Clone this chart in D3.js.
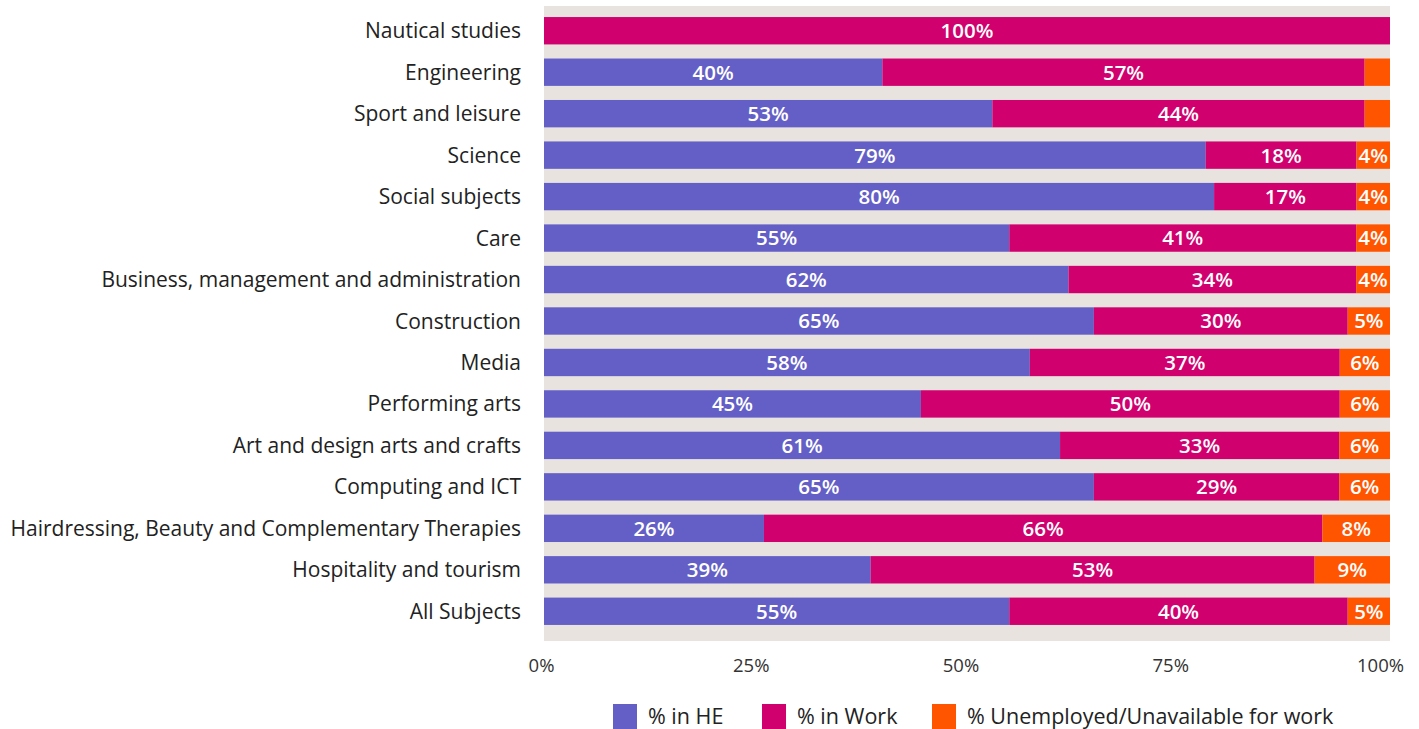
<!DOCTYPE html>
<html>
<head>
<meta charset="utf-8">
<script src="https://cdn.jsdelivr.net/npm/d3@7"></script>
<style>
  html, body { margin: 0; padding: 0; background: #ffffff; }
  svg { display: block; font-family: "Open Sans", Lato, sans-serif; }
</style>
</head>
<body>
<svg id="chart" width="1419" height="729"></svg>
<script>
// Destinations of leavers by subject area (percent of leavers)
const subjects = [
  "Nautical studies",
  "Engineering",
  "Sport and leisure",
  "Science",
  "Social subjects",
  "Care",
  "Business, management and administration",
  "Construction",
  "Media",
  "Performing arts",
  "Art and design arts and crafts",
  "Computing and ICT",
  "Hairdressing, Beauty and Complementary Therapies",
  "Hospitality and tourism",
  "All Subjects"
];
const inHE       = [0, 40, 53, 79, 80, 55, 62, 65, 58, 45, 61, 65, 26, 39, 55];
const inWork     = [100, 57, 44, 18, 17, 41, 34, 30, 37, 50, 33, 29, 66, 53, 40];
const unemployed = [0, 3, 3, 4, 4, 4, 4, 5, 6, 6, 6, 6, 8, 9, 5];

const seriesKeys   = ["he", "work", "unemp"];
const seriesNames  = ["% in HE", "% in Work", "% Unemployed/Unavailable for work"];
const seriesColors = ["#645fc6", "#d0006f", "#ff5500"];
const tickValues   = [0, 0.25, 0.5, 0.75, 1];

const rows = subjects.map((s, i) => ({ subject: s, he: inHE[i], work: inWork[i], unemp: unemployed[i] }));

const svg = d3.select("#chart");
const plot = { left: 544, right: 1390, top: 6, bottom: 641 };

const x = d3.scaleLinear().domain([0, 1]).range([plot.left, plot.right]);
const y = d3.scaleBand().domain(subjects).range([10, 632]).paddingInner(0.34).paddingOuter(0.17);

// Plot background
svg.append("rect")
  .attr("x", plot.left).attr("y", plot.top)
  .attr("width", plot.right - plot.left).attr("height", plot.bottom - plot.top)
  .attr("fill", "#e8e3df");

// 100% stacked layout
const stack = d3.stack().keys(seriesKeys).offset(d3.stackOffsetExpand);
const layers = stack(rows);

const g = svg.append("g");
layers.forEach((layer, li) => {
  const lg = g.append("g").attr("fill", seriesColors[li]);
  lg.selectAll("rect").data(layer).join("rect")
    .attr("x", d => x(d[0]))
    .attr("y", d => y(d.data.subject))
    .attr("width", d => Math.max(0, x(d[1]) - x(d[0])))
    .attr("height", y.bandwidth());

  lg.selectAll("text").data(layer.filter(d => d.data[layer.key] >= 4)).join("text")
    .attr("x", d => (x(d[0]) + x(d[1])) / 2)
    .attr("y", d => y(d.data.subject) + y.bandwidth() / 2)
    .attr("dy", "0.36em")
    .attr("text-anchor", "middle")
    .attr("fill", "#ffffff")
    .attr("font-size", 20.5)
    .attr("font-weight", 600)
    .text(d => d.data[layer.key] + "%");
});

// Category labels
svg.append("g").selectAll("text").data(subjects).join("text")
  .attr("x", 521)
  .attr("y", d => y(d) + y.bandwidth() / 2)
  .attr("dy", "0.36em")
  .attr("text-anchor", "end")
  .attr("fill", "#222222")
  .attr("font-size", 21)
  .text(d => d);

// Percentage axis
const xAxisScale = x.copy().range([541, 1380]);
const axis = svg.append("g")
  .attr("transform", "translate(0,665)")
  .call(d3.axisBottom(xAxisScale).tickValues(tickValues).tickFormat(d3.format(".0%")).tickSize(0).tickPadding(0));
axis.select(".domain").remove();
axis.selectAll("text")
  .attr("font-family", "'Open Sans', sans-serif")
  .attr("font-size", 18.5)
  .attr("fill", "#333333")
  .attr("dy", "0.36em");

// Legend
const legendX = [613, 762, 932];
const legend = svg.append("g");
seriesNames.forEach((name, i) => {
  legend.append("rect")
    .attr("x", legendX[i]).attr("y", 704)
    .attr("width", 24).attr("height", 25)
    .attr("fill", seriesColors[i]);
  legend.append("text")
    .attr("x", legendX[i] + 35).attr("y", 716.5)
    .attr("dy", "0.36em")
    .attr("font-size", 21.5)
    .attr("fill", "#222222")
    .text(name);
});
</script>
</body>
</html>
